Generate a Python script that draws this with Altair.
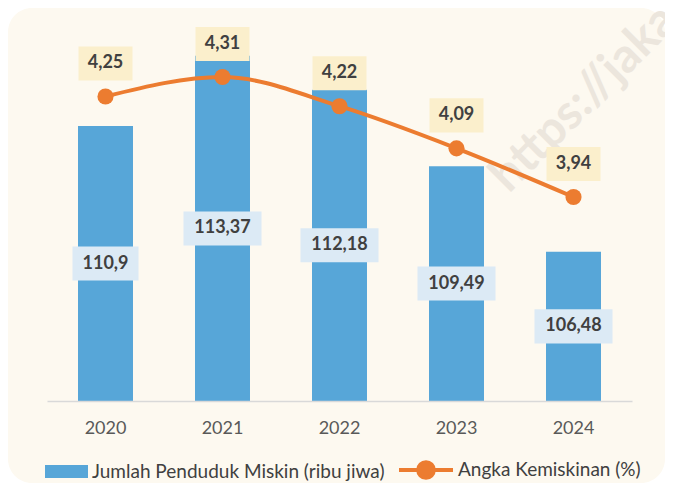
import altair as alt
import pandas as pd

# ---- data -------------------------------------------------------------
years = ["2020", "2021", "2022", "2023", "2024"]
poor_people = [110.9, 113.37, 112.18, 109.49, 106.48]      # ribu jiwa
poverty_rate = [4.25, 4.31, 4.22, 4.09, 3.94]              # %
poor_labels = [str(v).replace(".", ",") for v in poor_people]
rate_labels = [f"{v:.2f}".replace(".", ",") for v in poverty_rate]

BAR_SERIES = "Jumlah Penduduk Miskin (ribu jiwa)"
LINE_SERIES = "Angka Kemiskinan (%)"
WATERMARK = "https://jakarta.bps.go.id"

df = pd.DataFrame({
    "year": years,
    "poor": poor_people,
    "rate": poverty_rate,
    "poor_lbl": poor_labels,
    "rate_lbl": rate_labels,
})

# ---- styling ----------------------------------------------------------
W, H = 585, 371
PAD = {"left": 39, "top": 22, "right": 33, "bottom": 82}
BAR_MIN, BAR_MAX = 101.23, 114.28
RATE_MIN, RATE_MAX = 3.311, 4.455

BLUE = "#57A6D8"
ORANGE = "#EC7C30"
CREAM = "#FDF9F0"
BOX_BLUE = "#DCEAF5"
BOX_YELLOW = "#FBEFCC"
TXT = "#404040"
FONT = "Lato"

x_enc = alt.X(
    "year:N",
    scale=alt.Scale(paddingInner=0.53, paddingOuter=0.265),
    axis=alt.Axis(title=None, labelAngle=0, labelFont=FONT, labelFontSize=18,
                  labelColor="#595959", labelPadding=18, ticks=False,
                  domainColor="#D9D9D9", domainWidth=1.5, grid=False, zindex=1),
)
bar_scale = alt.Scale(domain=[BAR_MIN, BAR_MAX], zero=False, nice=False, clamp=True)
rate_scale = alt.Scale(domain=[RATE_MIN, RATE_MAX], zero=False, nice=False)

base = alt.Chart(df)

# background card
bg = alt.Chart(pd.DataFrame({"k": [0]})).mark_rect(
    color=CREAM, cornerRadius=24
).encode(
    x=alt.value(-PAD["left"]), x2=alt.value(W + PAD["right"]),
    y=alt.value(-PAD["top"]), y2=alt.value(H + PAD["bottom"]),
)

wm = alt.Chart(pd.DataFrame({"t": [WATERMARK]})).mark_text(
    align="left", baseline="alphabetic", angle=315, font=FONT,
    fontSize=48, fontWeight="bold", color="#ECE6DD",
).encode(x=alt.value(462), y=alt.value(164), text="t:N")

bars = base.transform_calculate(series=f"'{BAR_SERIES}'").mark_bar(color=BLUE).encode(
    x=x_enc,
    y=alt.Y("poor:Q", scale=bar_scale, axis=None),
    color=alt.Color("series:N",
                    scale=alt.Scale(domain=[BAR_SERIES], range=[BLUE]),
                    legend=alt.Legend(title=None, orient="none", legendX=-2, legendY=420,
                                      symbolType="M-1,-0.3H1V0.3H-1Z", symbolSize=1849,
                                      symbolStrokeWidth=0, labelOffset=4)),
)

box_expr = "(12*length(datum.poor_lbl)+6)/78"
bar_boxes = base.transform_calculate(
    mid=f"(datum.poor + {BAR_MIN})/2",
    hw=box_expr,
).transform_calculate(
    box="'M' + (-datum.hw) + ',-0.436H' + datum.hw + 'V0.436H' + (-datum.hw) + 'Z'"
).mark_point(filled=True, size=78 * 78, opacity=1, color=BOX_BLUE, strokeWidth=0).encode(
    x=x_enc,
    y=alt.Y("mid:Q", scale=bar_scale, axis=None),
    shape=alt.Shape("box:N", scale=None, legend=None),
)

bar_text = base.transform_calculate(
    mid=f"(datum.poor + {BAR_MIN})/2"
).mark_text(font=FONT, fontSize=18, fontWeight="bold", color=TXT, baseline="middle").encode(
    x=x_enc,
    y=alt.Y("mid:Q", scale=bar_scale, axis=None),
    text="poor_lbl:N",
)

line = base.transform_calculate(series=f"'{LINE_SERIES}'").mark_line(
    strokeWidth=4, interpolate="monotone"
).encode(
    x=x_enc,
    y=alt.Y("rate:Q", scale=rate_scale, axis=None),
    color=alt.Color("series:N",
                    scale=alt.Scale(domain=[LINE_SERIES], range=[ORANGE]),
                    legend=alt.Legend(title=None, orient="none", legendX=350, legendY=411,
                                      symbolType="M-1,0H1M-0.29,0A0.29,0.29 0 1 0 0.29,0A0.29,0.29 0 1 0 -0.29,0Z",
                                      symbolSize=2916, symbolStrokeWidth=4,
                                      symbolFillColor=ORANGE, labelOffset=3)),
)

points = base.mark_circle(size=260, color=ORANGE, opacity=1).encode(
    x=x_enc, y=alt.Y("rate:Q", scale=rate_scale, axis=None)
)

line_boxes = base.mark_point(
    filled=True, shape="M-1,-0.63H1V0.63H-1Z", size=2916, color=BOX_YELLOW,
    opacity=1, strokeWidth=0, yOffset=-33,
).encode(x=x_enc, y=alt.Y("rate:Q", scale=rate_scale, axis=None))

line_text = base.mark_text(
    font=FONT, fontSize=18, fontWeight="bold", color=TXT, baseline="middle", yOffset=-33
).encode(x=x_enc, y=alt.Y("rate:Q", scale=rate_scale, axis=None), text="rate_lbl:N")

chart = alt.layer(
    bg, wm, bars, bar_boxes, bar_text, line, points, line_boxes, line_text
).resolve_scale(
    y="independent", color="independent"
).properties(
    width=W, height=H, autosize=alt.AutoSizeParams(type="none"), padding=PAD
).configure_view(
    stroke=None
).configure_legend(
    labelFont=FONT, labelFontSize=19, labelColor="#404040", padding=0, offset=0,
    labelLimit=0
)

chart.save("out.html", embed_options={"renderer": "svg", "actions": False})
